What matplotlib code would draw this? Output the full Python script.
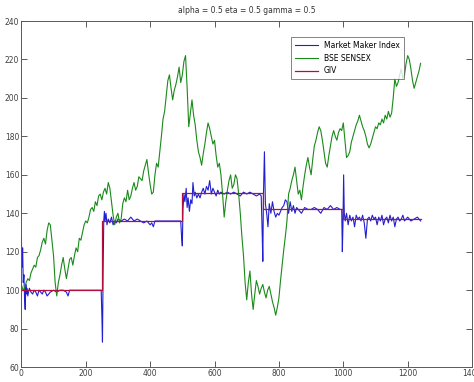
import matplotlib
matplotlib.use("Agg")
import matplotlib.pyplot as plt

# BSE SENSEX (every 5 days)
sensex_x = list(range(0, 1245, 5))
sensex_y = [103, 100, 101, 104, 106, 105, 109, 111, 113, 112,
            117, 118, 121, 125, 127, 124, 131, 135, 134, 126,
            118, 104, 97, 104, 108, 113, 117, 111, 106, 111,
            116, 117, 113, 118, 122, 120, 127, 126, 130, 134,
            136, 135, 138, 142, 143, 141, 146, 144, 149, 150,
            147, 151, 153, 150, 156, 153, 146, 139, 134, 138,
            140, 135, 137, 145, 148, 146, 152, 147, 149, 153,
            156, 152, 154, 159, 158, 157, 162, 165, 168, 161,
            155, 150, 151, 160, 166, 164, 172, 180, 189, 193,
            201, 209, 212, 205, 199, 204, 207, 211, 216, 208,
            212, 219, 222, 205, 185, 192, 199, 191, 186, 178,
            172, 169, 165, 171, 176, 182, 187, 184, 180, 176,
            178, 170, 164, 166, 160, 150, 138, 146, 152, 157,
            160, 153, 155, 160, 158, 150, 140, 128, 118, 104,
            95, 104, 110, 98, 90, 98, 105, 102, 98, 101,
            103, 99, 96, 100, 102, 98, 94, 91, 87, 91,
            96, 105, 113, 121, 128, 136, 150, 153, 157, 160,
            164, 157, 150, 152, 147, 154, 160, 165, 169, 164,
            160, 168, 175, 178, 182, 185, 183, 178, 172, 166,
            164, 170, 175, 180, 183, 180, 178, 182, 184, 183,
            187, 178, 169, 170, 172, 177, 180, 183, 186, 188,
            191, 188, 185, 183, 180, 176, 174, 176, 179, 182,
            185, 184, 187, 186, 189, 187, 191, 189, 193, 190,
            192, 200, 210, 206, 208, 212, 215, 210, 212, 218,
            222, 220, 215, 209, 205, 208, 211, 214, 218]

# Market Maker Index
mmi_x = [0, 2, 4, 6, 8, 10, 12, 14, 16, 18, 20, 25, 30, 35, 40, 45, 50, 55, 60, 65,
         70, 75, 80, 90, 100, 110, 120, 130, 140, 145, 150, 160, 170, 180, 200, 220,
         240, 248, 250, 252, 254, 256, 258, 260, 263, 266, 270, 275, 280, 285, 290,
         295, 300, 310, 320, 330, 340, 350, 360, 370, 380, 390, 400, 405, 410, 415,
         420, 440, 460, 480, 495, 498, 500, 502, 505, 508, 512, 515, 518, 522, 526,
         530, 533, 537, 540, 545, 550, 555, 560, 565, 570, 575, 580, 585, 590, 595,
         600, 605, 610, 615, 620, 630, 640, 650, 660, 670, 680, 690, 700, 710, 720,
         730, 740, 745, 748, 750, 752, 755, 758, 762, 766, 770, 775, 780, 785, 790,
         795, 800, 805, 810, 815, 820, 825, 830, 835, 840, 845, 850, 855, 860, 870,
         880, 890, 900, 910, 920, 930, 940, 950, 960, 970, 980, 990, 995, 997, 999,
         1001, 1003, 1006, 1010, 1015, 1020, 1025, 1030, 1035, 1040, 1045, 1050,
         1055, 1060, 1065, 1070, 1075, 1080, 1085, 1090, 1095, 1100, 1105, 1110,
         1115, 1120, 1125, 1130, 1135, 1140, 1145, 1150, 1155, 1160, 1165, 1170,
         1175, 1180, 1185, 1190, 1195, 1200, 1210, 1220, 1230, 1240]
mmi_y = [128, 112, 122, 104, 108, 96, 90, 103, 98, 101, 97, 101, 99, 98, 100, 99, 97, 100, 99, 98,
         100, 99, 97, 99, 100, 99, 100, 100, 99, 97, 100, 100, 100, 100, 100, 100,
         100, 100, 88, 73, 110, 136, 141, 136, 140, 134, 137, 135, 138, 134, 136,
         135, 137, 136, 137, 136, 138, 136, 137, 136, 135, 136, 134, 135, 133, 136,
         136, 136, 136, 136, 136, 127, 123, 142, 150, 146, 153, 143, 148, 141, 147,
         145, 156, 149, 151, 148, 150, 148, 151, 153, 150, 154, 152, 157, 150, 153,
         151, 149, 152, 150, 151, 150, 151, 150, 151, 150, 149, 151, 150, 151, 150,
         149, 150, 149, 130, 115, 150, 172, 145, 140, 133, 145, 140, 146, 141, 138,
         140, 139, 141, 143, 144, 147, 146, 140, 146, 141, 144, 140, 143, 142, 140,
         143, 142, 142, 143, 142, 140, 143, 142, 144, 142, 143, 142, 142, 120, 135,
         160, 140, 136, 140, 134, 139, 136, 138, 133, 139, 137, 138,
         136, 139, 135, 127, 137, 138, 136, 139, 137, 138, 134, 138,
         136, 139, 134, 137, 138, 135, 139, 136, 138, 133, 137, 138,
         136, 137, 139, 136, 137, 138, 136, 137, 138, 136]

# GIV: piecewise constant levels
giv_x = [0, 250, 500, 750, 1000, 1240]
giv_y = [100, 136, 150.5, 142, 137, 137]

fig = plt.figure(figsize=(4.74, 3.82), dpi=100)
ax = fig.add_axes([0.045, 0.039, 0.951, 0.906])

ax.plot(mmi_x, mmi_y, color="#2020d0", linewidth=0.8, label="Market Maker Index")
ax.plot(sensex_x, sensex_y, color="#1a8a1a", linewidth=0.8, label="BSE SENSEX")
ax.plot(giv_x, giv_y, color="#b01040", linewidth=0.9, drawstyle="steps-post", label="GIV")

ax.set_xlim(0, 1400)
ax.set_ylim(60, 240)
ax.set_xticks(range(0, 1401, 200))
ax.set_yticks(range(60, 241, 20))
ax.tick_params(direction="in", length=4, width=0.6, top=True, right=True,
               labelsize=5.5, colors="0.25", pad=1.5)
for s in ax.spines.values():
    s.set_color("0.35")
    s.set_linewidth(0.7)

ax.set_title("alpha = 0.5 eta = 0.5 gamma = 0.5", fontsize=5.5, color="0.2", pad=6)

leg = ax.legend(loc="upper left", bbox_to_anchor=(0.59, 0.965), fontsize=5.5,
                frameon=True, fancybox=False, edgecolor="0.3", borderpad=0.5,
                handlelength=3.0, labelspacing=0.5)
leg.get_frame().set_linewidth(0.6)

fig.savefig("out.png", dpi=100)
